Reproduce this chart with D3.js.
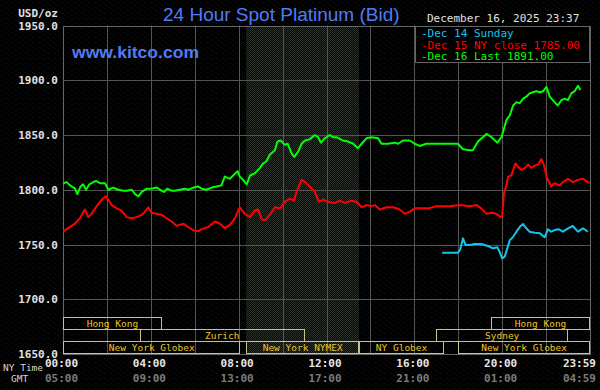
<!DOCTYPE html>
<html>
<head>
<meta charset="utf-8">
<script src="https://cdn.jsdelivr.net/npm/d3@7"></script>
<style>
  body { margin: 0; background: #000; }
  svg { display: block; }
</style>
</head>
<body>
<svg id="chart" width="600" height="390"></svg>
<script>
// --- Data (minutes after midnight, NY time) ---
const dec16Times = [1,10,19,33,39,48,55,63,72,83,90,101,115,124,137,151,165,174,188,197,206,215,229,242,256,265,276,285,297,306,319,333,342,356,369,
  379,392,406,420,433,442,456,465,477,483,492,502,511,524,538,547,556,565,579,586,595,606,614,625,632,643,652,661,674,688,697,705,715,729,738,
  747,764,779,793,806,816,829,843,861,870,888,907,916,929,948,961,975,993,1011,1029,1057,1079,1093,1111,
  1120,1134,1157,1171,1187,1198,1205,1212,1221,1230,1239,1248,1257,1266,1275,1284,1294,1303,1312,1321,1330,1343,1352,1362,1371,1380,1389,1398,1407,1414];
const dec16Values = [1806,1807,1804,1801,1796,1803,1805,1800,1805,1807,1808,1806,1806,1800,1802,1800,1799,1799,1800,1796,1794,1798,1801,1801,1802,1800,1798,1801,1799,1799,1800,1801,1800,1802,1803,
  1801,1800,1802,1803,1804,1812,1810,1813,1817,1812,1809,1805,1813,1815,1820,1824,1826,1832,1836,1844,1845,1841,1842,1833,1830,1835,1842,1845,1846,1850,1848,1843,1847,1850,1848,
  1848,1845,1844,1842,1838,1842,1847,1848,1847,1842,1842,1843,1842,1845,1845,1842,1840,1842,1842,1842,1842,1842,1837,1836,
  1836,1844,1851,1848,1843,1848,1856,1864,1868,1877,1880,1879,1883,1885,1888,1889,1890,1889,1890,1894,1885,1880,1877,1882,1883,1882,1888,1890,1895,1891];

const dec15Times = [1,14,33,46,60,69,78,92,106,117,124,133,147,160,174,188,201,215,224,233,242,256,270,283,297,310,329,342,356,369,
  379,397,415,429,442,456,470,483,497,511,524,533,543,552,565,579,593,606,620,631,638,652,661,674,688,699,711,724,738,
  743,756,770,788,802,816,829,843,852,866,884,902,920,934,948,961,979,998,1020,1057,1084,1111,
  1130,1143,1157,1171,1184,1196,1200,1205,1212,1216,1225,1236,1243,1253,1262,1271,1280,1289,1298,1307,1314,1321,1334,1343,1357,1366,1380,1393,1407,1421,1434,1439];
const dec15Values = [1762,1765,1769,1774,1782,1775,1778,1785,1791,1794,1791,1786,1783,1781,1775,1774,1775,1777,1780,1784,1779,1778,1777,1774,1771,1767,1769,1766,1763,1762,
  1764,1766,1771,1769,1765,1768,1774,1784,1778,1775,1781,1782,1773,1772,1777,1784,1783,1789,1792,1790,1798,1809,1807,1803,1798,1789,1791,1789,1788,
  1788,1790,1788,1790,1789,1784,1786,1785,1786,1782,1784,1784,1782,1778,1780,1783,1783,1783,1785,1785,1786,1785,
  1786,1783,1778,1779,1778,1775,1776,1797,1804,1812,1813,1824,1821,1818,1820,1823,1820,1822,1823,1828,1823,1812,1803,1806,1804,1807,1810,1807,1809,1810,1807,1806];

const dec14Times = [1036,1079,1085,1093,1100,1111,1125,1143,1161,1175,1187,1193,1200,1207,1214,1221,1230,1239,1248,1257,1266,1275,1289,1303,1316,1325,1334,1343,1355,1366,1380,1393,1407,1421,1434];
const dec14Values = [1742.5,1742.5,1745,1755.6,1749.5,1749.5,1750.5,1750.5,1748.6,1746.5,1747.4,1743.4,1737.3,1738.9,1746.5,1754,1757,1761.7,1766,1768.7,1764.8,1761.7,1760.8,1760.2,1756.6,1763.9,1761.7,1763.2,1763.9,1761.7,1764.8,1766.9,1761.7,1764.8,1761.7];

const yTicks = [1650, 1700, 1750, 1800, 1850, 1900, 1950];
const nyTickTimes = [0, 240, 480, 720, 960, 1200, 1439];
const nyTickLabels = ["00:00", "04:00", "08:00", "12:00", "16:00", "20:00", "23:59"];
const gmtTickLabels = ["05:00", "09:00", "13:00", "17:00", "21:00", "01:00", "04:59"];

const legendLabels = ["Dec 14 Sunday", "Dec 15 NY close 1785.00", "Dec 16 Last 1891.00"];

const sessionNames = ["Hong Kong", "Hong Kong", "Zurich", "Sydney", "New York Globex", "New York NYMEX", "NY Globex", "New York Globex"];
const sessionRows = [0, 0, 1, 1, 2, 2, 2, 2];
const sessionStart = [0, 1170, 210, 1020, 0, 500, 810, 1080];
const sessionEnd = [270, 1440, 660, 1380, 485, 810, 1040, 1440];

const nymexStart = 500, nymexEnd = 810;

// --- Layout ---
const svg = d3.select('#chart');
const x = d3.scaleLinear().domain([0, 1440]).range([63, 590]);
const y = d3.scaleLinear().domain([1650, 1950]).range([354, 25.5]);
const crisp = v => Math.round(v) + 0.5;

const mono = "'DejaVu Sans Mono', 'Liberation Mono', monospace";
const sans = "'Liberation Sans', Arial, sans-serif";

// patterns: faint dither on the black background, checker on NYMEX hours
const defs = svg.append('defs');
const noise = defs.append('pattern').attr('id', 'noise')
  .attr('width', 7).attr('height', 5).attr('patternUnits', 'userSpaceOnUse');
noise.append('rect').attr('width', 7).attr('height', 5).attr('fill', '#000');
[[1, 0, '#1a0a0a'], [4, 2, '#0a1a0a'], [2, 4, '#0a0a1c'], [6, 3, '#141414']].forEach(p => {
  noise.append('rect').attr('x', p[0]).attr('y', p[1]).attr('width', 1).attr('height', 1).attr('fill', p[2]);
});
const shade = defs.append('pattern').attr('id', 'shade')
  .attr('width', 2).attr('height', 2).attr('patternUnits', 'userSpaceOnUse');
shade.append('rect').attr('width', 2).attr('height', 2).attr('fill', '#060706');
shade.append('rect').attr('x', 0).attr('y', 0).attr('width', 1).attr('height', 1).attr('fill', '#2c312c');
shade.append('rect').attr('x', 1).attr('y', 1).attr('width', 1).attr('height', 1).attr('fill', '#2c312c');

svg.append('rect').attr('width', 600).attr('height', 390).attr('fill', 'url(#noise)');

// NYMEX shaded region
svg.append('rect')
  .attr('x', Math.round(x(nymexStart))).attr('y', Math.round(y(1950)))
  .attr('width', Math.round(x(nymexEnd)) - Math.round(x(nymexStart)))
  .attr('height', Math.round(y(1650)) - Math.round(y(1950)))
  .attr('fill', 'url(#shade)');

// grid
const grid = svg.append('g').attr('stroke', '#555').attr('stroke-width', 1);
grid.selectAll('line.h').data(yTicks.slice(1, -1)).join('line').attr('class', 'h')
  .attr('x1', x(0)).attr('x2', x(1440))
  .attr('y1', d => crisp(y(d))).attr('y2', d => crisp(y(d)));
grid.selectAll('line.v').data(d3.range(120, 1440, 120)).join('line').attr('class', 'v')
  .attr('y1', y(1950)).attr('y2', y(1650))
  .attr('x1', d => crisp(x(d))).attr('x2', d => crisp(x(d)));

// frame
svg.append('rect')
  .attr('x', crisp(x(0))).attr('y', crisp(y(1950)))
  .attr('width', Math.round(x(1440)) - Math.round(x(0)))
  .attr('height', Math.round(y(1650)) - Math.round(y(1950)))
  .attr('fill', 'none').attr('stroke', '#666');

// session boxes
const rowTop = [317, 329, 341];
const rowH = 12;
const sessions = sessionNames.map((n, i) => ({ name: n, row: sessionRows[i], s: sessionStart[i], e: sessionEnd[i] }));
const sg = svg.append('g');
sg.selectAll('rect').data(sessions).join('rect')
  .attr('x', d => crisp(x(d.s))).attr('y', d => rowTop[d.row] + 0.5)
  .attr('width', d => Math.round(x(d.e)) - Math.round(x(d.s)) - 1)
  .attr('height', rowH)
  .attr('fill', 'none').attr('stroke', '#c9c08c').attr('stroke-width', 1);
sg.selectAll('text').data(sessions).join('text')
  .attr('x', d => (x(d.s) + x(d.e)) / 2)
  .attr('y', d => rowTop[d.row] + 10)
  .attr('text-anchor', 'middle')
  .attr('font-family', mono).attr('font-size', 9.5)
  .attr('fill', '#ecc62a')
  .text(d => d.name);

// series lines
const line = d3.line().x(d => x(d[0])).y(d => y(d[1]));
const series = [
  { times: dec14Times, values: dec14Values, color: '#14c4ec' },
  { times: dec15Times, values: dec15Values, color: '#ff0000' },
  { times: dec16Times, values: dec16Values, color: '#00ff00' }
];
svg.append('g').selectAll('path').data(series).join('path')
  .attr('d', s => line(s.times.map((t, i) => [t, s.values[i]])))
  .attr('fill', 'none').attr('stroke', s => s.color)
  .attr('stroke-width', 2).attr('stroke-linejoin', 'round');

// y axis labels
svg.append('g').selectAll('text').data(yTicks).join('text')
  .attr('x', 58).attr('y', d => y(d) + 4)
  .attr('text-anchor', 'end')
  .attr('font-family', mono).attr('font-size', 11).attr('font-weight', 'bold')
  .attr('fill', '#e0e0e0')
  .text(d => d3.format('.1f')(d));
svg.append('text').attr('x', 58).attr('y', 17).attr('text-anchor', 'end')
  .attr('font-family', mono).attr('font-size', 11).attr('font-weight', 'bold')
  .attr('fill', '#e0e0e0').text('USD/oz');

// x axis labels
const xl = svg.append('g').attr('font-family', mono).attr('font-size', 11).attr('font-weight', 'bold');
xl.selectAll('text.ny').data(nyTickTimes).join('text').attr('class', 'ny')
  .attr('x', (d, i) => i === nyTickTimes.length - 1 ? 596 : x(d) - 1.5)
  .attr('y', 367)
  .attr('text-anchor', (d, i) => i === nyTickTimes.length - 1 ? 'end' : 'middle')
  .attr('fill', '#e6e6e6')
  .text((d, i) => nyTickLabels[i]);
xl.selectAll('text.gmt').data(nyTickTimes).join('text').attr('class', 'gmt')
  .attr('x', (d, i) => i === nyTickTimes.length - 1 ? 596 : x(d) - 1.5)
  .attr('y', 382)
  .attr('text-anchor', (d, i) => i === nyTickTimes.length - 1 ? 'end' : 'middle')
  .attr('fill', '#7c7c7c')
  .text((d, i) => gmtTickLabels[i]);
svg.append('text').attr('x', 3).attr('y', 371)
  .attr('font-family', mono).attr('font-size', 9.5).attr('fill', '#d8d8d8').text('NY Time');
svg.append('text').attr('x', 11).attr('y', 382)
  .attr('font-family', mono).attr('font-size', 9.5).attr('fill', '#d8d8d8').text('GMT');

// titles
svg.append('text').attr('x', 163).attr('y', 21)
  .attr('font-family', sans).attr('font-size', 19)
  .attr('fill', '#4f7cf7').text('24 Hour Spot Platinum (Bid)');
svg.append('text').attr('x', 72).attr('y', 58)
  .attr('font-family', sans).attr('font-size', 17).attr('font-weight', 'bold')
  .attr('textLength', 127).attr('lengthAdjust', 'spacingAndGlyphs')
  .attr('fill', '#4f7cf7').text('www.kitco.com');
svg.append('text').attr('x', 427).attr('y', 22)
  .attr('font-family', mono).attr('font-size', 11)
  .attr('fill', '#e0e0e0').text('December 16, 2025 23:37');

// legend
svg.append('rect').attr('x', 415.5).attr('y', 26.5).attr('width', 174).attr('height', 36)
  .attr('fill', '#000').attr('stroke', '#666');
const lg = svg.append('g');
lg.selectAll('text').data(series).join('text')
  .attr('x', 421).attr('y', (d, i) => 37 + i * 11.5)
  .attr('font-family', mono).attr('font-size', 11)
  .attr('fill', d => d.color)
  .text((d, i) => '-' + legendLabels[i]);
</script>
</body>
</html>
